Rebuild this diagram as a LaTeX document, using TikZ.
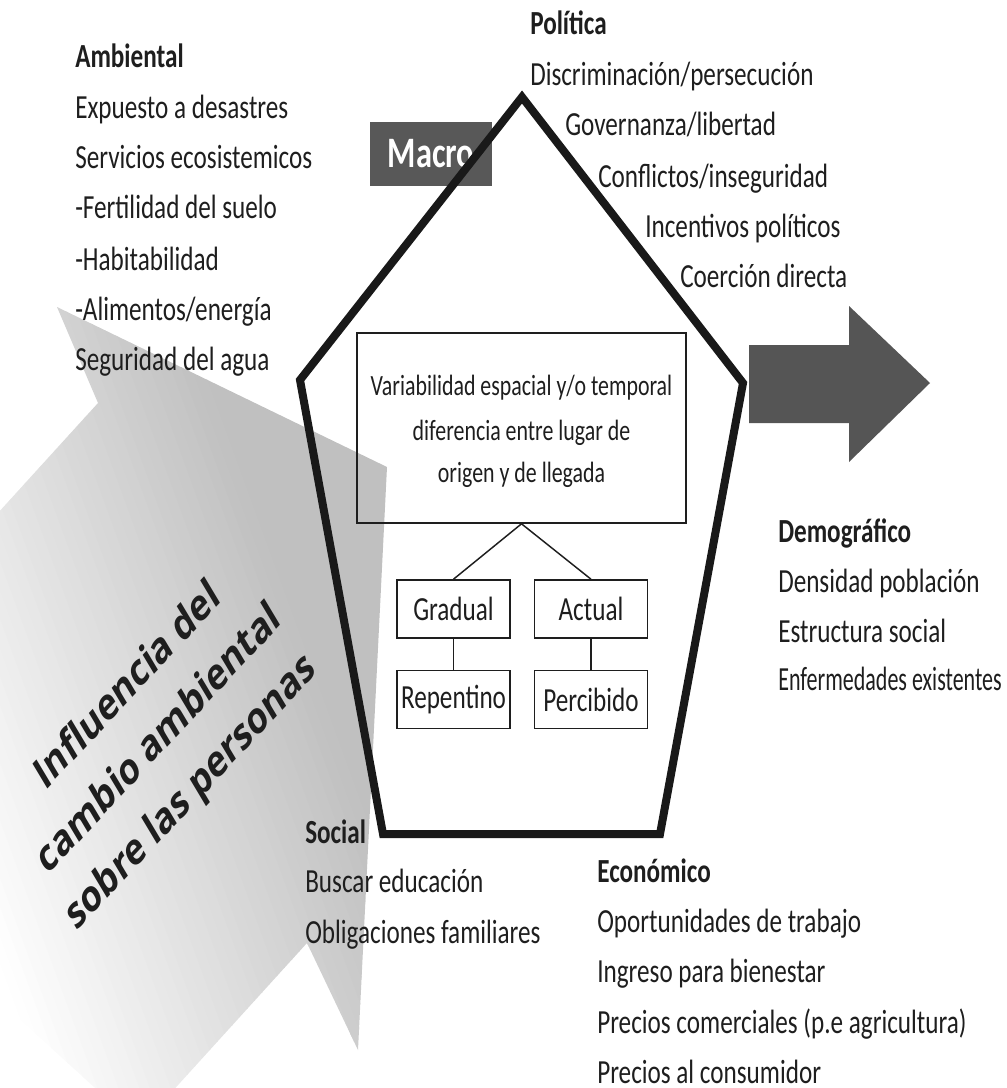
\documentclass[tikz,border=0pt]{standalone}
\usepackage{fontspec}
\setmainfont{Carlito}[FakeStretch=0.746]
\newfontfamily\rotfont{Open Sans}
\definecolor{txtc}{HTML}{1E1E1E}
\definecolor{darkg}{HTML}{585858}
\definecolor{arrowg}{HTML}{555555}
\definecolor{shadeg}{HTML}{C0C0C0}
\begin{document}
\begin{tikzpicture}[x=0.75pt,y=-0.75pt,
  txt/.style={font=\fontsize{25.3pt}{30pt}\selectfont, text=txtc, inner sep=0pt, anchor=base west},
  head/.style={txt, font=\fontsize{25.3pt}{30pt}\selectfont\bfseries},
  boxtxt/.style={font=\fontsize{22pt}{26pt}\selectfont, text=txtc, inner sep=0pt, anchor=base},
  leaf/.style={draw=txtc, line width=1.2pt, minimum width=84.75pt, minimum height=43.5pt, inner sep=0pt,
     font=\fontsize{25.3pt}{30pt}\selectfont, text=txtc},
  conn/.style={draw=txtc, line width=1.1pt}]
\useasboundingbox (0,0) rectangle (1006,1088);
% big shaded arrow (influence of environmental change)
\coordinate (gG) at (98,403);
\coordinate (gA) at (57,307);
\coordinate (gB) at (387,467);
\coordinate (gC) at (358,1050);
\coordinate (gD) at (307,943);
\coordinate (gE) at (139,1128);
\coordinate (gF) at (-244,779);
\begin{scope}
  \clip (0,0) rectangle (1006,1088);
  \clip (gG) -- (gA) -- (gB) -- (gC) -- (gD) -- (gE) -- (gF) -- cycle;
  \begin{scope}[shift={(150,800)}, rotate=20]
    \fill[shadeg] (197,-1200) rectangle (1200,1200);
    \foreach \i in {0,...,39}{
      \pgfmathsetmacro{\xa}{-197+\i*9.85}
      \pgfmathsetmacro{\xb}{-197+(\i+1)*9.85+0.6}
      \pgfmathsetmacro{\pc}{(\i+0.5)*100/40}
      \fill[shadeg!\pc!white] (\xa,-1200) rectangle (\xb,1200);
    }
  \end{scope}
\end{scope}
% rotated label
\begin{scope}[shift={(160,740)}, yscale=1.34]
  \node (infl) [rotate=38.7, transform shape, align=center, inner sep=0pt, text=txtc,
    font=\rotfont\bfseries\fontsize{25pt}{38pt}\selectfont]
    {Influencia del\\cambio ambiental\\sobre las personas};
\end{scope}
% Macro label
\node (macro) [fill=darkg, minimum width=91.5pt, minimum height=48pt, inner sep=0pt, text=white,
  font=\fontsize{32.6pt}{36pt}\selectfont\bfseries] at (431,154) {Macro};
% pentagon
\coordinate (p1) at (522,97);
\coordinate (p2) at (743,383);
\coordinate (p3) at (660,834);
\coordinate (p4) at (383,834);
\coordinate (p5) at (300,380);
\draw[line width=6pt, line join=miter, draw=black!90] (p1) -- (p2) -- (p3) -- (p4) -- (p5) -- cycle;
% right arrow
\fill[arrowg] (749,345) -- (849,345) -- (849,306) -- (930,383) -- (849,462) -- (849,423) -- (749,423) -- cycle;
% central box
\node (vb) [draw=txtc, line width=1.2pt, minimum width=246.75pt, minimum height=142.5pt, inner sep=0pt] at (521.5,428) {};
\node (vb1) [boxtxt] at (521.5,395) {Variabilidad espacial y/o temporal};
\node (vb2) [boxtxt] at (521.5,440) {diferencia entre lugar de};
\node (vb3) [boxtxt] at (521.5,482) {origen y de llegada};
\node (grad) [leaf] at (453.5,609) {Gradual};
\node (act)  [leaf] at (591,609) {Actual};
\node (rep)  [leaf] at (453.5,699.5) {Repentino};
\node (perc) [leaf] at (591,699.5) {Percibido};
\draw[conn] (vb.south) -- (grad.north);
\draw[conn] (vb.south) -- (act.north);
\draw[conn] (grad.south) -- (rep.north);
\draw[conn] (act.south) -- (perc.north);
% Ambiental
\node (amb0) [head] at (75,68) {Ambiental};
\node (amb1) [txt] at (75,118) {Expuesto a desastres};
\node (amb2) [txt] at (75,168) {Servicios ecosistemicos};
\node (amb3) [txt] at (75,218) {-Fertilidad del suelo};
\node (amb4) [txt] at (75,270) {-Habitabilidad};
\node (amb5) [txt] at (75,320) {-Alimentos/energía};
\node (amb6) [txt] at (75,370) {Seguridad del agua};
% Politica
\node (pol0) [head] at (530,35) {Política};
\node (pol1) [txt] at (530,85) {Discriminación/persecución};
\node (pol2) [txt] at (565,135) {Governanza/libertad};
\node (pol3) [txt] at (598,187) {Conflictos/inseguridad};
\node (pol4) [txt] at (645,237) {Incentivos políticos};
\node (pol5) [txt] at (680,287) {Coerción directa};
% Demografico
\node (dem0) [head] at (778,542) {Demográfico};
\node (dem1) [txt] at (778,592) {Densidad población};
\node (dem2) [txt] at (778,642) {Estructura social};
\node (dem3) [txt] at (778,690) {\scalebox{0.875}[1]{Enfermedades existentes}};
% Economico
\node (eco0) [head] at (597,882) {Económico};
\node (eco1) [txt] at (597,932) {Oportunidades de trabajo};
\node (eco2) [txt] at (597,982) {Ingreso para bienestar};
\node (eco3) [txt] at (597,1033) {Precios comerciales (p.e agricultura)};
\node (eco4) [txt] at (597,1083) {Precios al consumidor};
% Social
\node (soc0) [head] at (305,843) {Social};
\node (soc1) [txt] at (305,892) {Buscar educación};
\node (soc2) [txt] at (305,943) {Obligaciones familiares};
\end{tikzpicture}
\end{document}
